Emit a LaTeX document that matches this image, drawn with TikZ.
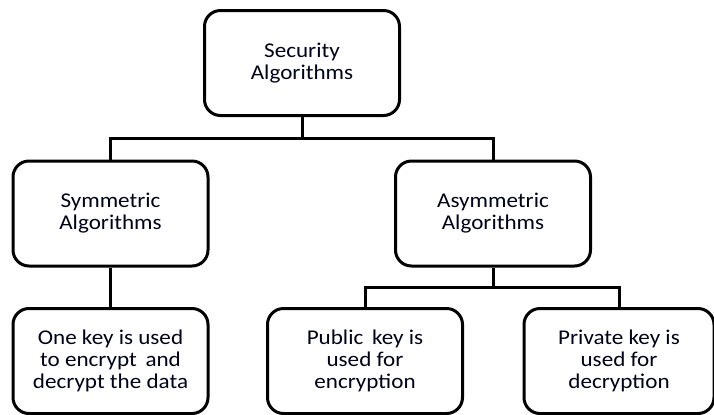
\documentclass[tikz,border=0pt]{standalone}
\usepackage{fontspec}
\setmainfont{Carlito}[FakeStretch=1.1]
\begin{document}
\begin{tikzpicture}[x=0.5pt,y=-0.5pt,
  every node/.style={font=\fontsize{10.5pt}{11pt}\selectfont, text=black!90!blue},
  algbox/.style={draw, line width=1.5pt, rounded corners=8pt, align=center,
    inner sep=0pt, minimum width=97.5pt, minimum height=52.5pt},
  link/.style={line width=1.5pt}]
\useasboundingbox (0,0) rectangle (714,414);
% boxes
\node[algbox] (sec)  at (302,63)    {Security\\Algorithms};
\node[algbox] (sym)  at (110.5,213.5) {Symmetric\\Algorithms};
\node[algbox] (asym) at (493,213.5) {Asymmetric\\Algorithms};
\node[algbox] (one)  at (110.5,361) {One key is used\\to encrypt\, and\\decrypt the data};
\node[algbox] (pub)  at (365,361)   {Public\, key is\\used for\\encryption};
\node[algbox, minimum width=95pt] (priv) at (619,361) {Private key is\\used for\\decryption};
% connectors
\draw[link] (sec.south) -- ++(0,21) coordinate (bus);
\draw[link] (sym.north) |- (bus) -| (asym.north);
\draw[link] (sym.south) -- (one.north);
\draw[link] (asym.south) -- ++(0,20) coordinate (bus2);
\draw[link] (pub.north) |- (bus2) -| (priv.north);
\end{tikzpicture}
\end{document}
